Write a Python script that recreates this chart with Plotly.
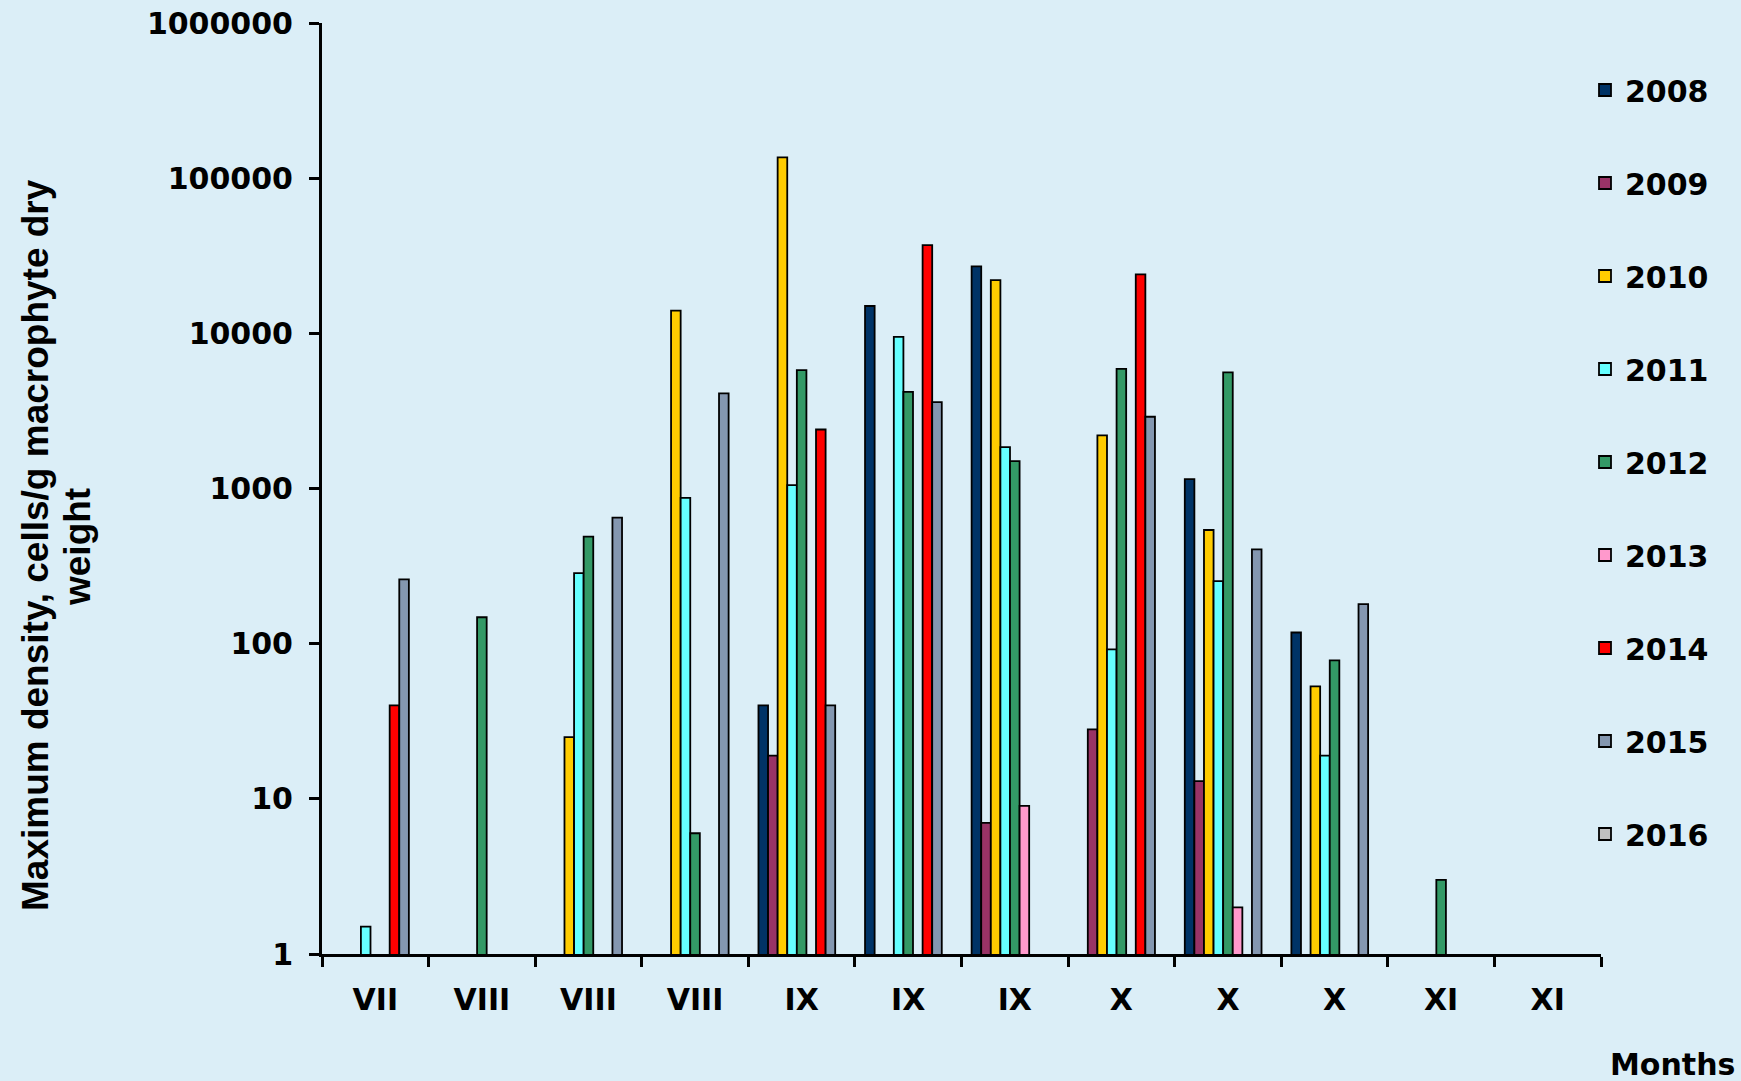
import plotly.graph_objects as go

# Sampling occasions (month labels repeat for several surveys within a month)
months = ["VII", "VIII", "VIII", "VIII", "IX", "IX", "IX", "X", "X", "X", "XI", "XI"]
positions = list(range(len(months)))

years = ["2008", "2009", "2010", "2011", "2012", "2013", "2014", "2015", "2016"]

# Maximum density, cells/g macrophyte dry weight (None = not detected)
y2008 = [None, None, None, None, 40, 15000, 27000, None, 1150, 118, None, None]
y2009 = [None, None, None, None, 19, None, 7, 28, 13, None, None, None]
y2010 = [None, None, 25, 14000, 136000, None, 22000, 2200, 540, 53, None, None]
y2011 = [1.5, None, 285, 870, 1050, 9500, 1850, 92, 253, 19, None, None]
y2012 = [None, 148, 490, 6, 5800, 4200, 1500, 5900, 5600, 78, 3, None]
y2013 = [None, None, None, None, None, None, 9, None, 2, None, None, None]
y2014 = [40, None, None, None, 2400, 37000, None, 24000, None, None, None, None]
y2015 = [260, None, 650, 4100, 40, 3600, None, 2900, 405, 180, None, None]
y2016 = [None] * 12

series = [y2008, y2009, y2010, y2011, y2012, y2013, y2014, y2015, y2016]
colors = ["#003366", "#993366", "#FFCC00", "#66FFFF", "#339966",
          "#FF99CC", "#FF0000", "#8497B0", "#C0C0C0"]

ytick_vals = [1, 10, 100, 1000, 10000, 100000, 1000000]
ytick_text = ["1", "10", "100", "1000", "10000", "100000", "1000000"]

bg = "#DBEEF7"
tick_font = dict(family="DejaVu Sans", size=30, color="black")

# plot-area geometry in pixels
W, H = 1741, 1081
L, R, T, B = 322, 140, 23, 127
PW, PH = W - L - R, H - T - B

fig = go.Figure()
for name, vals, col in zip(years, series, colors):
    fig.add_trace(go.Bar(
        x=positions, y=vals, name=name, legendgroup=name,
        marker=dict(color=col, line=dict(color="black", width=1.8)),
    ))

fig.update_layout(
    width=W, height=H,
    margin=dict(l=L, r=R, t=T, b=B, autoexpand=False),
    paper_bgcolor=bg, plot_bgcolor=bg,
    barmode="group", bargap=0.19, bargroupgap=0,
    font=dict(family="DejaVu Sans", color="black"),
    showlegend=True,
    legend=dict(
        xref="container", yref="container",
        x=1585 / W, xanchor="left",
        y=1 - 64 / H, yanchor="top",
        font=dict(family="DejaVu Sans", size=30, color="black", weight="bold"),
        bgcolor="rgba(0,0,0,0)", tracegroupgap=51, traceorder="grouped",
        maxheight=1000,
    ),
    xaxis=dict(
        range=[-0.5, len(months) - 0.5],
        tickmode="array", tickvals=positions, ticktext=[f"<b>{m}</b>" for m in months],
        ticks="", tickfont=tick_font, ticklabelstandoff=17,
        showline=True, linewidth=3, linecolor="black",
        showgrid=False, zeroline=False,
        minor=dict(tickmode="array", tickvals=[p - 0.5 for p in range(len(months) + 1)],
                   ticks="outside", ticklen=10, tickwidth=3, tickcolor="black",
                   showgrid=False),
    ),
    yaxis=dict(
        type="log", range=[0, 6],
        tickmode="array", tickvals=ytick_vals, ticktext=[f"<b>{t}</b>" for t in ytick_text],
        ticks="outside", ticklen=10, tickwidth=3, tickcolor="black",
        tickfont=tick_font, ticklabelstandoff=10,
        showline=True, linewidth=3, linecolor="black",
        showgrid=False, zeroline=False,
    ),
)

title_font = dict(family="Liberation Sans", size=37, color="black", weight="bold")
fig.add_annotation(
    text="Maximum density, cells/g macrophyte dry", textangle=-90,
    xref="paper", yref="paper", x=(36 - L) / PW, y=(T + PH - 545) / PH,
    xanchor="center", yanchor="middle", showarrow=False, font=title_font,
)
fig.add_annotation(
    text="weight", textangle=-90,
    xref="paper", yref="paper", x=(77 - L) / PW, y=(T + PH - 547) / PH,
    xanchor="center", yanchor="middle", showarrow=False, font=title_font,
)
fig.add_annotation(
    text="<b>Months</b>",
    xref="paper", yref="paper", x=(1672 - L) / PW, y=(T + PH - 1064) / PH,
    xanchor="center", yanchor="middle", showarrow=False,
    font=dict(family="DejaVu Sans", size=30, color="black"),
)

fig.write_html("out.html")
